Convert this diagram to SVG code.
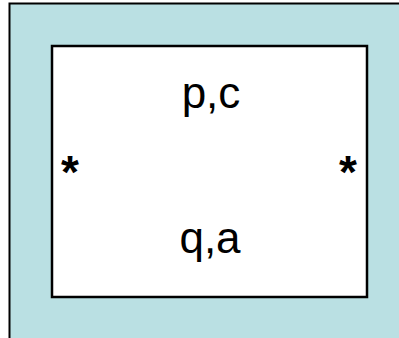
<svg xmlns="http://www.w3.org/2000/svg" width="399" height="338" viewBox="0 0 399 338">
<style>
.t{font-family:"Liberation Sans",Arial,sans-serif;font-size:44px;fill:#000;text-anchor:middle}
.s{font-family:"Liberation Sans",Arial,sans-serif;font-size:46px;font-weight:bold;fill:#000;text-anchor:middle}
</style>
<g id="outer"><rect x="9.5" y="3.5" width="420" height="370" fill="#BAE0E3" stroke="#000" stroke-width="2"/></g>
<g id="inner">
<rect x="52" y="46" width="315" height="251" fill="#fff" stroke="#000" stroke-width="2.5"/>
<text class="t" x="211" y="108">p,c</text>
<text class="t" x="210" y="253">q,a</text>
<text class="s" x="70" y="188">*</text>
<text class="s" x="348" y="188">*</text>
</g>
<g id="connectors"/>
</svg>
